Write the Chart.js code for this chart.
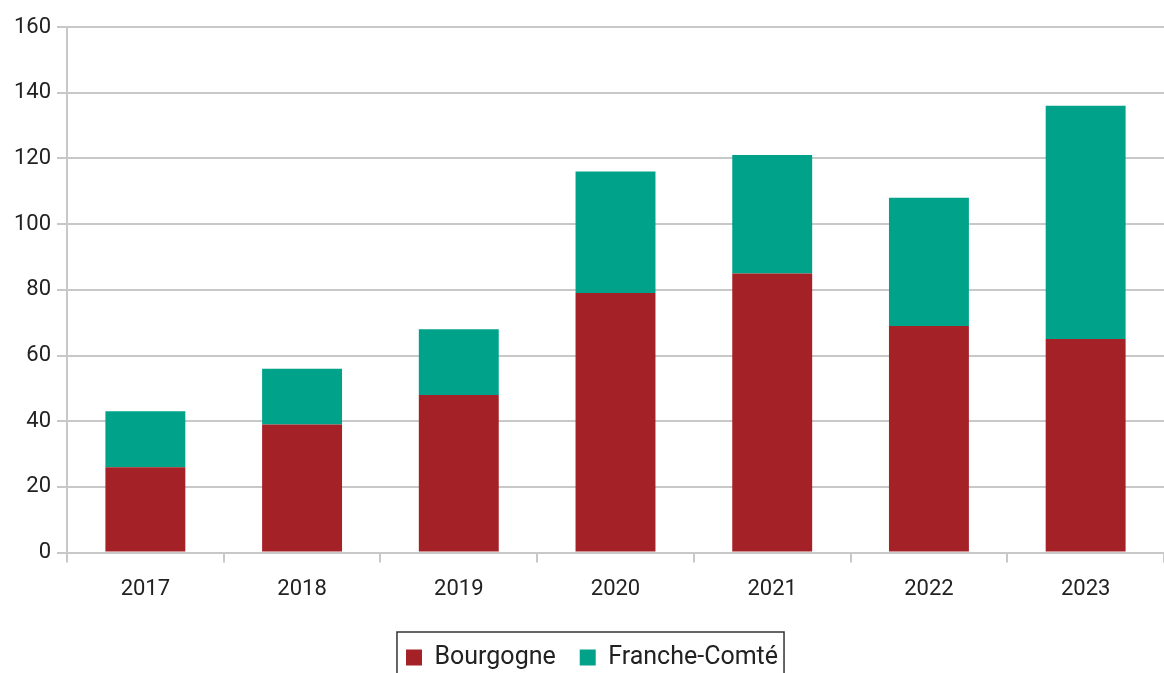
<!DOCTYPE html>
<html>
<head>
<meta charset="utf-8">
<script src="https://cdn.jsdelivr.net/npm/chart.js@4/dist/chart.umd.min.js"></script>
<style>
  html, body { margin: 0; padding: 0; background: #fff; overflow: hidden; }
  #wrap { width: 1164px; height: 708px; position: relative; }
</style>
</head>
<body>
<div id="wrap"><canvas id="myChart"></canvas></div>
<script>
var years = ['2017', '2018', '2019', '2020', '2021', '2022', '2023'];
var bourgogne = [26, 39, 48, 79, 85, 69, 65];
var francheComte = [17, 17, 20, 37, 36, 39, 71];

var fontFamily = "'Roboto', sans-serif";

// legend sits a little right of centre, with a frame around it
var legendFrame = {
    id: 'legendFrame',
    afterLayout: function (chart) {
        var lg = chart.legend;
        lg.left += 10;
        lg.right += 10;
        lg.legendHitBoxes.forEach(function (b) { b.left += 10; });
    },
    afterDraw: function (chart) {
        var boxes = chart.legend.legendHitBoxes;
        if (!boxes || !boxes.length) return;
        var left = Math.min.apply(null, boxes.map(function (b) { return b.left; })) - 9;
        var right = Math.max.apply(null, boxes.map(function (b) { return b.left + b.width; })) + 6;
        var top = boxes[0].top - 13;
        var c = chart.ctx;
        c.save();
        c.strokeStyle = '#333';
        c.lineWidth = 1.5;
        c.strokeRect(left, top, right - left, 80);
        c.restore();
    }
};

function onSight() {
    var ctx = document.getElementById('myChart').getContext('2d');
    new Chart(ctx, {
        type: 'bar',
        data: {
            labels: years,
            datasets: [{
                label: 'Bourgogne',
                data: bourgogne,
                backgroundColor: '#a42127'
            }, {
                label: 'Franche-Comté',
                data: francheComte,
                backgroundColor: '#00a389'
            }]
        },
        options: {
            responsive: true,
            maintainAspectRatio: false,
            animation: false,
            layout: { padding: { top: 27, right: 0, left: 0, bottom: 28 } },
            datasets: { bar: { categoryPercentage: 1, barPercentage: 0.51 } },
            scales: {
                x: {
                    stacked: true,
                    afterFit: function (s) { s.height += 4; },
                    grid: { drawOnChartArea: false, color: '#c8c8c8', lineWidth: 2, tickLength: 10 },
                    border: { color: '#c8c8c8', width: 2 },
                    ticks: { color: '#222', font: { family: fontFamily, size: 22 }, padding: 14 }
                },
                y: {
                    stacked: true,
                    min: 0,
                    max: 160,
                    afterFit: function (s) { s.width = 67; },
                    grid: { color: '#c8c8c8', lineWidth: 2, tickLength: 10 },
                    border: { color: '#c8c8c8', width: 2 },
                    ticks: { stepSize: 20, color: '#222', font: { family: fontFamily, size: 22 }, padding: 6 }
                }
            },
            plugins: {
                legend: {
                    position: 'bottom',
                    labels: {
                        color: '#222',
                        font: { family: fontFamily, size: 25 },
                        boxWidth: 16,
                        boxHeight: 16,
                        padding: 24
                    }
                },
                tooltip: { enabled: false }
            }
        },
        plugins: [legendFrame]
    });
}

document.addEventListener('DOMContentLoaded', onSight);
</script>
</body>
</html>
